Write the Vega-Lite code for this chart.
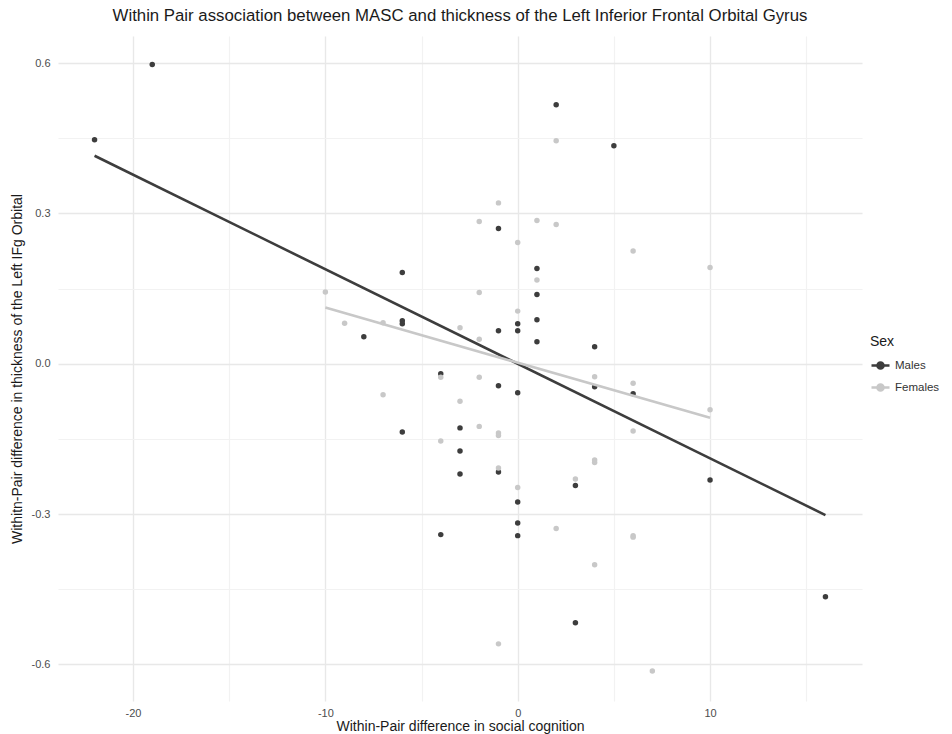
{
  "$schema": "https://vega.github.io/schema/vega-lite/v6.json",
  "width": 804,
  "height": 665,
  "autosize": {"type": "none"},
  "padding": {"left": 58, "top": 36, "right": 90, "bottom": 33},
  "background": "white",
  "config": {
    "font": "Liberation Sans",
    "view": {"stroke": null},
    "axis": {"domain": false, "ticks": false, "labelFont": "Liberation Sans", "titleFont": "Liberation Sans"}
  },
  "title": {
    "text": "Within Pair association between MASC and thickness of the Left Inferior Frontal Orbital Gyrus",
    "fontSize": 16.8,
    "fontWeight": "normal",
    "color": "#1a1a1a",
    "anchor": "middle",
    "frame": "group",
    "offset": 11
  },
  "datasets": {
    "points": [
      {"diff_social": -22, "diff_thick": 0.447, "Sex": "Males"},
      {"diff_social": -19, "diff_thick": 0.597, "Sex": "Males"},
      {"diff_social": 2, "diff_thick": 0.517, "Sex": "Males"},
      {"diff_social": 5, "diff_thick": 0.435, "Sex": "Males"},
      {"diff_social": -1, "diff_thick": 0.27, "Sex": "Males"},
      {"diff_social": -6, "diff_thick": 0.182, "Sex": "Males"},
      {"diff_social": 1, "diff_thick": 0.19, "Sex": "Males"},
      {"diff_social": 1, "diff_thick": 0.138, "Sex": "Males"},
      {"diff_social": -6, "diff_thick": 0.086, "Sex": "Males"},
      {"diff_social": -6, "diff_thick": 0.08, "Sex": "Males"},
      {"diff_social": 0, "diff_thick": 0.08, "Sex": "Males"},
      {"diff_social": 0, "diff_thick": 0.066, "Sex": "Males"},
      {"diff_social": -1, "diff_thick": 0.066, "Sex": "Males"},
      {"diff_social": 1, "diff_thick": 0.088, "Sex": "Males"},
      {"diff_social": 1, "diff_thick": 0.044, "Sex": "Males"},
      {"diff_social": -8, "diff_thick": 0.054, "Sex": "Males"},
      {"diff_social": -4, "diff_thick": -0.02, "Sex": "Males"},
      {"diff_social": 4, "diff_thick": 0.034, "Sex": "Males"},
      {"diff_social": -1, "diff_thick": -0.044, "Sex": "Males"},
      {"diff_social": 0, "diff_thick": -0.058, "Sex": "Males"},
      {"diff_social": 4, "diff_thick": -0.046, "Sex": "Males"},
      {"diff_social": 6, "diff_thick": -0.06, "Sex": "Males"},
      {"diff_social": -6, "diff_thick": -0.136, "Sex": "Males"},
      {"diff_social": -3, "diff_thick": -0.128, "Sex": "Males"},
      {"diff_social": -3, "diff_thick": -0.174, "Sex": "Males"},
      {"diff_social": -3, "diff_thick": -0.22, "Sex": "Males"},
      {"diff_social": -1, "diff_thick": -0.216, "Sex": "Males"},
      {"diff_social": 0, "diff_thick": -0.276, "Sex": "Males"},
      {"diff_social": 0, "diff_thick": -0.318, "Sex": "Males"},
      {"diff_social": 0, "diff_thick": -0.343, "Sex": "Males"},
      {"diff_social": -4, "diff_thick": -0.341, "Sex": "Males"},
      {"diff_social": 3, "diff_thick": -0.243, "Sex": "Males"},
      {"diff_social": 10, "diff_thick": -0.232, "Sex": "Males"},
      {"diff_social": 3, "diff_thick": -0.517, "Sex": "Males"},
      {"diff_social": 16, "diff_thick": -0.465, "Sex": "Males"},
      {"diff_social": -1, "diff_thick": 0.321, "Sex": "Females"},
      {"diff_social": -2, "diff_thick": 0.284, "Sex": "Females"},
      {"diff_social": 1, "diff_thick": 0.286, "Sex": "Females"},
      {"diff_social": 0, "diff_thick": 0.242, "Sex": "Females"},
      {"diff_social": 1, "diff_thick": 0.167, "Sex": "Females"},
      {"diff_social": -10, "diff_thick": 0.143, "Sex": "Females"},
      {"diff_social": -2, "diff_thick": 0.142, "Sex": "Females"},
      {"diff_social": 0, "diff_thick": 0.105, "Sex": "Females"},
      {"diff_social": -9, "diff_thick": 0.081, "Sex": "Females"},
      {"diff_social": -7, "diff_thick": 0.082, "Sex": "Females"},
      {"diff_social": -3, "diff_thick": 0.072, "Sex": "Females"},
      {"diff_social": -2, "diff_thick": 0.049, "Sex": "Females"},
      {"diff_social": -4, "diff_thick": -0.027, "Sex": "Females"},
      {"diff_social": -2, "diff_thick": -0.027, "Sex": "Females"},
      {"diff_social": 2, "diff_thick": 0.445, "Sex": "Females"},
      {"diff_social": 2, "diff_thick": 0.278, "Sex": "Females"},
      {"diff_social": 6, "diff_thick": 0.225, "Sex": "Females"},
      {"diff_social": 10, "diff_thick": 0.192, "Sex": "Females"},
      {"diff_social": -3, "diff_thick": -0.075, "Sex": "Females"},
      {"diff_social": -2, "diff_thick": -0.125, "Sex": "Females"},
      {"diff_social": -1, "diff_thick": -0.138, "Sex": "Females"},
      {"diff_social": -1, "diff_thick": -0.143, "Sex": "Females"},
      {"diff_social": -4, "diff_thick": -0.154, "Sex": "Females"},
      {"diff_social": -1, "diff_thick": -0.208, "Sex": "Females"},
      {"diff_social": 0, "diff_thick": -0.247, "Sex": "Females"},
      {"diff_social": 3, "diff_thick": -0.23, "Sex": "Females"},
      {"diff_social": 4, "diff_thick": -0.192, "Sex": "Females"},
      {"diff_social": 4, "diff_thick": -0.197, "Sex": "Females"},
      {"diff_social": 2, "diff_thick": -0.329, "Sex": "Females"},
      {"diff_social": 4, "diff_thick": -0.026, "Sex": "Females"},
      {"diff_social": 6, "diff_thick": -0.039, "Sex": "Females"},
      {"diff_social": 10, "diff_thick": -0.092, "Sex": "Females"},
      {"diff_social": 6, "diff_thick": -0.134, "Sex": "Females"},
      {"diff_social": 6, "diff_thick": -0.343, "Sex": "Females"},
      {"diff_social": 6, "diff_thick": -0.346, "Sex": "Females"},
      {"diff_social": 4, "diff_thick": -0.401, "Sex": "Females"},
      {"diff_social": -1, "diff_thick": -0.559, "Sex": "Females"},
      {"diff_social": 7, "diff_thick": -0.613, "Sex": "Females"},
      {"diff_social": -7, "diff_thick": -0.062, "Sex": "Females"}
    ],
    "fits": [
      {"diff_social": -22, "diff_thick": 0.415, "Sex": "Males"},
      {"diff_social": 16, "diff_thick": -0.302, "Sex": "Males"},
      {"diff_social": -10, "diff_thick": 0.112, "Sex": "Females"},
      {"diff_social": 10, "diff_thick": -0.108, "Sex": "Females"}
    ]
  },
  "encoding": {
    "x": {
      "field": "diff_social",
      "type": "quantitative",
      "scale": {"domain": [-23.9, 17.9], "nice": false, "zero": false},
      "axis": {
        "title": "Within-Pair difference in social cognition",
        "titleFontSize": 14,
        "titleFontWeight": "normal",
        "titleColor": "#1a1a1a",
        "titlePadding": 1,
        "values": [-20, -15, -10, -5, 0, 5, 10, 15],
        "labelExpr": "datum.value % 10 === 0 ? replace(format(datum.value, 'd'), '\u2212', '-') : ''",
        "labelFontSize": 11,
        "labelColor": "#4d4d4d",
        "labelPadding": 6,
        "gridColor": {"condition": {"test": "datum.value % 10 === 0", "value": "#e8e8e8"}, "value": "#f2f2f2"},
        "gridWidth": {"condition": {"test": "datum.value % 10 === 0", "value": 1.4}, "value": 1.2}
      }
    },
    "y": {
      "field": "diff_thick",
      "type": "quantitative",
      "scale": {"domain": [-0.673, 0.654], "nice": false, "zero": false},
      "axis": {
        "title": "Withitn-Pair difference in thickness of the Left IFg Orbital",
        "titleFontSize": 14,
        "titleFontWeight": "normal",
        "titleColor": "#1a1a1a",
        "titlePadding": 7,
        "values": [-0.6, -0.45, -0.3, -0.15, 0, 0.15, 0.3, 0.45, 0.6],
        "labelExpr": "abs(round(datum.value * 100)) % 30 === 0 ? replace(format(datum.value, '.1f'), '\u2212', '-') : ''",
        "labelFontSize": 11,
        "labelColor": "#4d4d4d",
        "labelPadding": 8,
        "gridColor": {"condition": {"test": "abs(round(datum.value * 100)) % 30 === 0", "value": "#e8e8e8"}, "value": "#f2f2f2"},
        "gridWidth": {"condition": {"test": "abs(round(datum.value * 100)) % 30 === 0", "value": 1.4}, "value": 1.2}
      }
    },
    "color": {
      "field": "Sex",
      "type": "nominal",
      "scale": {"domain": ["Males", "Females"], "range": ["#3d3d3d", "#c8c8c8"]},
      "legend": {
        "title": "Sex",
        "orient": "none",
        "legendX": 812,
        "legendY": 299,
        "titleFontSize": 14,
        "titleFontWeight": "normal",
        "titleColor": "#1a1a1a",
        "titlePadding": 6,
        "labelFontSize": 11.5,
        "labelColor": "#333333",
        "labelOffset": 4,
        "symbolType": "M-1,0L1,0M-0.34,0A0.34,0.34,0,1,1,0.34,0A0.34,0.34,0,1,1,-0.34,0Z",
        "symbolSize": 324,
        "symbolStrokeWidth": 2.5,
        "rowPadding": 3,
        "encode": {
          "symbols": {
            "update": {
              "stroke": {"scale": "color", "field": "value"},
              "fill": {"scale": "color", "field": "value"},
              "opacity": {"value": 1}
            }
          }
        }
      }
    }
  },
  "layer": [
    {
      "data": {"name": "points"},
      "mark": {"type": "point", "filled": true, "size": 30, "opacity": 1}
    },
    {
      "data": {"name": "fits"},
      "mark": {"type": "line", "strokeWidth": 2.6}
    }
  ]
}
